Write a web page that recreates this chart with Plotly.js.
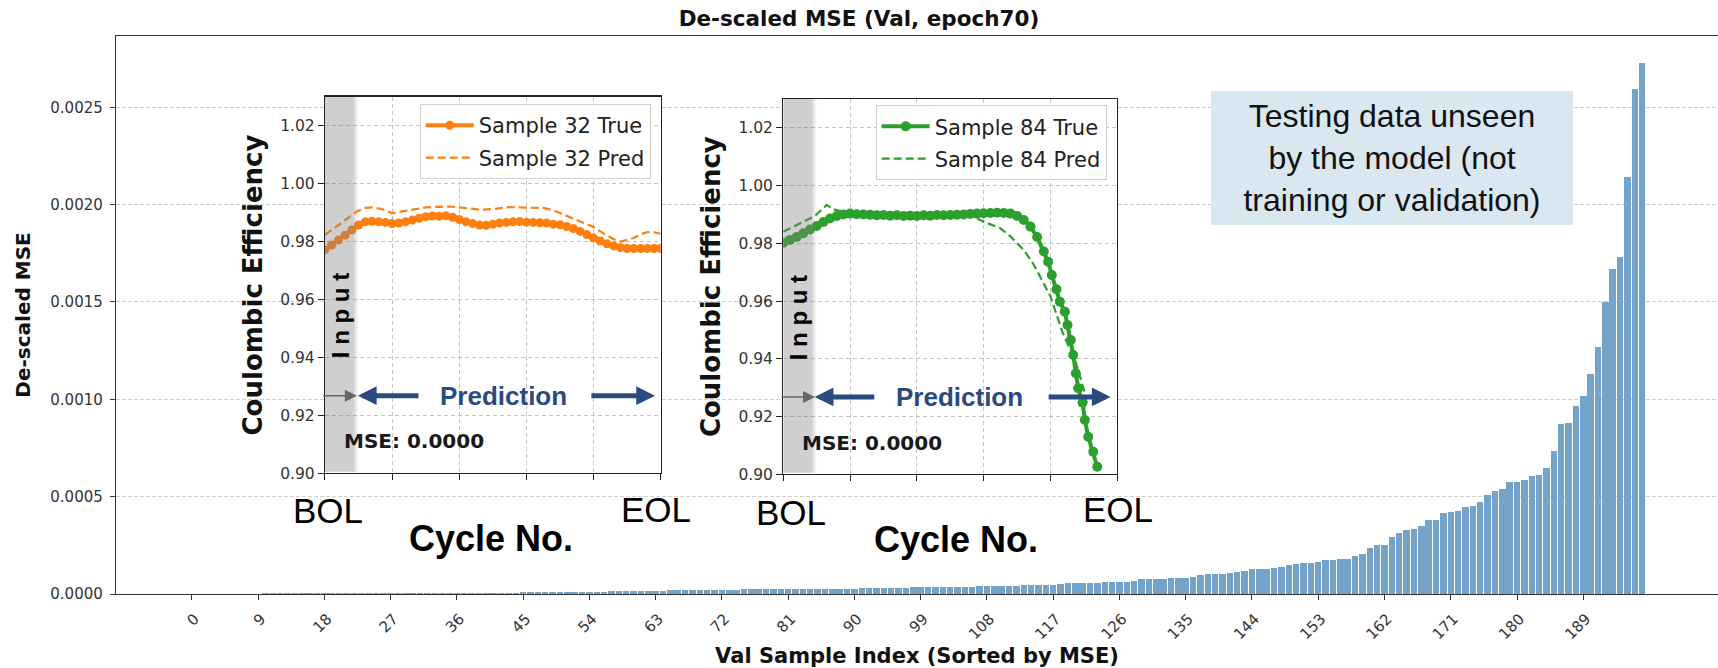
<!DOCTYPE html>
<html>
<head>
<meta charset="utf-8">
<script src="https://cdn.plot.ly/plotly-3.0.1.min.js"></script>
<style>
html,body{margin:0;padding:0;background:#fff;}
#chart{width:1718px;height:668px;}
</style>
</head>
<body>
<div id="chart"></div>
<script>
// ---------- main chart data ----------
const mseValues = [
  0.0000001, 0.0000002, 0.0000002, 0.0000003, 0.0000004, 0.0000005, 0.0000005, 0.0000006, 0.0000007, 0.0000008,
  0.0000038, 0.0000039, 0.0000041, 0.0000042, 0.0000042, 0.0000044, 0.0000045, 0.0000046, 0.0000046, 0.0000047,
  0.0000048, 0.0000049, 0.0000050, 0.0000050, 0.0000051, 0.0000052, 0.0000053, 0.0000054, 0.0000054, 0.0000055,
  0.0000056, 0.0000057, 0.0000058, 0.0000058, 0.0000059, 0.0000060, 0.0000061, 0.0000062, 0.0000063, 0.0000063,
  0.0000064, 0.0000065, 0.0000066, 0.0000067, 0.0000068, 0.0000110, 0.0000112, 0.0000113, 0.0000115, 0.0000116,
  0.0000118, 0.0000119, 0.0000121, 0.0000123, 0.0000124, 0.0000126, 0.0000128, 0.0000130, 0.0000132, 0.0000135,
  0.0000138, 0.0000142, 0.0000146, 0.0000150, 0.0000165, 0.0000190, 0.0000198, 0.0000201, 0.0000203, 0.0000204,
  0.0000206, 0.0000208, 0.0000210, 0.0000213, 0.0000216, 0.0000248, 0.0000252, 0.0000254, 0.0000255, 0.0000256,
  0.0000257, 0.0000258, 0.0000259, 0.0000260, 0.0000261, 0.0000262, 0.0000263, 0.0000265, 0.0000266, 0.0000268,
  0.0000270, 0.0000285, 0.0000302, 0.0000305, 0.0000307, 0.0000309, 0.0000311, 0.0000320, 0.0000352, 0.0000355,
  0.0000357, 0.0000359, 0.0000360, 0.0000362, 0.0000364, 0.0000366, 0.0000375, 0.0000405, 0.0000408, 0.0000410,
  0.0000412, 0.0000415, 0.0000425, 0.0000470, 0.0000474, 0.0000477, 0.0000480, 0.0000483, 0.0000495, 0.0000540,
  0.0000545, 0.0000549, 0.0000553, 0.0000565, 0.0000625, 0.0000630, 0.0000635, 0.0000640, 0.0000660, 0.0000775,
  0.0000782, 0.0000788, 0.0000795, 0.0000830, 0.0000836, 0.0000842, 0.0000860, 0.0000995, 0.0001005, 0.0001012,
  0.0001020, 0.0001060, 0.0001140, 0.0001160, 0.0001260, 0.0001275, 0.0001290, 0.0001320, 0.0001370, 0.0001500,
  0.0001540, 0.000157, 0.000158, 0.000164, 0.000175, 0.000176, 0.000181, 0.000182, 0.000194, 0.000203,
  0.000234, 0.000252, 0.000253, 0.000294, 0.000312, 0.000329, 0.000334, 0.000347, 0.000380, 0.000381,
  0.000416, 0.000422, 0.000427, 0.000446, 0.000451, 0.000475, 0.000511, 0.000530, 0.000541, 0.000575,
  0.000576, 0.000586, 0.000605, 0.000612, 0.000647, 0.000736, 0.000873, 0.000879, 0.000968, 0.001019,
  0.001132, 0.001269, 0.001498, 0.001671, 0.001730, 0.002144, 0.002592, 0.002729
];
const sampleIndex = mseValues.map((_, i) => i);
const xTickVals = [0, 9, 18, 27, 36, 45, 54, 63, 72, 81, 90, 99, 108, 117, 126, 135, 144, 153, 162, 171, 180, 189];
const yTickVals = [0, 0.0005, 0.0010, 0.0015, 0.0020, 0.0025];

// ---------- inset data (cycle position 0..100, BOL -> EOL) ----------
const s32X = [0,2,4,6,8,10,12,14,16,18,20,22,24,26,28,30,32,34,36,38,40,42,44,46,48,50,
              52,54,56,58,60,62,64,66,68,70,72,74,76,78,80,82,84,86,88,90,92,94,96,98,100];
const s32True = [0.9772,0.9788,0.9805,0.9822,0.9840,0.9857,0.9868,0.9870,0.9868,0.9866,0.9862,0.9864,0.9868,
                 0.9874,0.9880,0.9886,0.9888,0.9887,0.9889,0.9884,0.9876,0.9868,0.9862,0.9857,0.9856,0.9860,
                 0.9864,0.9866,0.9868,0.9869,0.9867,0.9866,0.9865,0.9864,0.9860,0.9858,0.9852,0.9845,0.9835,
                 0.9824,0.9812,0.9802,0.9792,0.9785,0.9779,0.9776,0.9776,0.9776,0.9776,0.9776,0.9776];
const s32PredX = [0,3,6,9.5,12,14,17,20,23,26,30,34,37,40,43,46,50,55,60,65,68,70,73,76,80,83,86,88,90,92,94,96,98,100];
const s32Pred = [0.9823,0.9848,0.9875,0.9904,0.9916,0.9918,0.9912,0.9898,0.9904,0.9910,0.9918,0.9920,0.9921,
                 0.9918,0.9913,0.9910,0.9912,0.9919,0.9917,0.9916,0.9908,0.9898,0.9884,0.9870,0.9850,0.9828,
                 0.9808,0.9800,0.9805,0.9812,0.9825,0.9833,0.9832,0.9827];

const s84X = [0,2,4,6,8,10,12,14,16,18,20,22,24,26,28,30,32,34,36,38,40,42,44,46,48,50,52,54,56,58,60,62,64,66,68,70,
              72,74,76,78,79.3,80.4,81.8,82.8,84.3,85.1,86.1,86.8,87.6,88.3,89.6,90.3,91.3,92.8,94.0];
const s84True = [0.9802,0.9812,0.9822,0.9835,0.9848,0.9860,0.9874,0.9886,0.9895,0.9900,0.9903,0.9901,0.9900,
                 0.9899,0.9897,0.9898,0.9896,0.9897,0.9895,0.9896,0.9895,0.9897,0.9896,0.9898,0.9897,0.9898,
                 0.9899,0.9900,0.9902,0.9903,0.9904,0.9905,0.9906,0.9905,0.9903,0.9895,
                 0.9881,0.9858,0.9822,0.9772,0.9736,0.9690,0.9641,0.9598,0.9563,0.9517,0.9465,0.9413,0.9350,
                 0.9298,0.9248,0.9188,0.9130,0.9078,0.9026];
const s84PredX = [0,5,9.5,13,15,17,20,30,40,50,57,60,65,68,72,75,78,80,82,83.5,85,87,88.5,90,91];
const s84Pred = [0.9840,0.9869,0.9895,0.9933,0.9918,0.9912,0.9910,0.9898,0.9896,0.9898,0.9892,0.9875,0.9852,
                 0.9824,0.9777,0.9726,0.9662,0.9616,0.9547,0.9495,0.9455,0.9409,0.9351,0.9293,0.9236];

const insetXTicks = [0, 20, 40, 60, 80, 100];
const insetYTicks = [0.90, 0.92, 0.94, 0.96, 0.98, 1.00, 1.02];
const inputEnd = 9.5;
const mseText = 'MSE: 0.0000';

// ---------- styles ----------
const DJ = 'DejaVu Sans, sans-serif';
const AR = 'Liberation Sans, Arial, sans-serif';
const NAVY = '#2a4b80';
const ORANGE = '#ff7f0e';
const GREEN = '#2ca02c';

const traces = [
  {type:'bar', x: sampleIndex, y: mseValues, width: 0.88,
   marker:{color:'#74a3c9', line:{width:0}}, showlegend:false, hoverinfo:'skip', xaxis:'x', yaxis:'y'},
  {type:'scatter', mode:'lines+markers', x: s32X, y: s32True, name:'Sample 32 True', legendgroup:'a',
   line:{color:ORANGE, width:4}, marker:{color:ORANGE, size:9}, xaxis:'x2', yaxis:'y2', legend:'legend2'},
  {type:'scatter', mode:'lines', x: s32PredX, y: s32Pred, name:'Sample 32 Pred', legendgroup:'b',
   line:{color:ORANGE, width:2.2, dash:'8px,4px'}, xaxis:'x2', yaxis:'y2', legend:'legend2'},
  {type:'scatter', mode:'lines+markers', x: s84X, y: s84True, name:'Sample 84 True', legendgroup:'c',
   line:{color:GREEN, width:4}, marker:{color:GREEN, size:10}, xaxis:'x3', yaxis:'y3', legend:'legend3'},
  {type:'scatter', mode:'lines', x: s84PredX, y: s84Pred, name:'Sample 84 Pred', legendgroup:'d',
   line:{color:GREEN, width:2.2, dash:'8px,4px'}, xaxis:'x3', yaxis:'y3', legend:'legend3'}
];

function insetX(domain){
  return {domain: domain, range:[0,100], tickvals: insetXTicks, showticklabels:false,
    ticks:'outside', ticklen:6, tickcolor:'#222', showline:true, mirror:true, linecolor:'#222', linewidth:1.2,
    showgrid:true, gridcolor:'#c4c4c4', griddash:'4px,3px', gridwidth:1, zeroline:false, fixedrange:true};
}
function insetY(domain, anchor){
  return {domain: domain, anchor: anchor, range:[0.90,1.03], tickvals: insetYTicks, tickformat:'.2f',
    ticks:'outside', ticklen:6, tickcolor:'#222', showline:true, mirror:true, linecolor:'#222', linewidth:1.2,
    showgrid:true, gridcolor:'#c4c4c4', griddash:'4px,3px', gridwidth:1, zeroline:false,
    tickfont:{family:DJ, size:15.5, color:'#333'},
    title:{text:'<b>Coulombic Efficiency</b>', font:{family:DJ, size:26, color:'#111'}, standoff:10}, fixedrange:true};
}

const x2dom = [0.13046, 0.34001], y2dom = [0.21631, 0.89122];
const x3dom = [0.41654, 0.62503], y3dom = [0.21452, 0.88710];

function insetAnnotations(xa, ya, c){
  const xd = xa + ' domain', yd = ya + ' domain';
  return [
    {xref:xa, yref:ya, x:c.inputX, y:0.9544, text:'<b>I n p u t</b>', textangle:-90, showarrow:false,
     font:{family:AR, size:24, color:'#000'}},
    {xref:xa, yref:ya, x:c.predX, y:0.9268, text:'<b>Prediction</b>', showarrow:false,
     font:{family:AR, size:26, color:NAVY}},
    {xref:xa, yref:ya, x:c.lh, y:0.9268, axref:xa, ayref:ya, ax:c.lt, ay:0.9268, text:'', showarrow:true,
     arrowhead:2, arrowsize:0.75, arrowwidth:5, arrowcolor:NAVY},
    {xref:xa, yref:ya, x:c.rh, y:0.9268, axref:xa, ayref:ya, ax:c.rt, ay:0.9268, text:'', showarrow:true,
     arrowhead:2, arrowsize:0.75, arrowwidth:5, arrowcolor:NAVY},
    {xref:xa, yref:ya, x:inputEnd, y:0.9268, axref:xa, ayref:ya, ax:-1, ay:0.9268, text:'', showarrow:true,
     arrowhead:2, arrowsize:1.6, arrowwidth:1.5, arrowcolor:'#666'},
    {xref:xa, yref:ya, x:5.0, y:0.9110, text:'<b>' + mseText + '</b>', showarrow:false, xanchor:'left',
     font:{family:DJ, size:20, color:'#1a1a1a'}},
    {xref:xd, yref:yd, x:c.bolX, y:c.bolY, xanchor:'center', yanchor:'middle', text:'BOL', showarrow:false,
     font:{family:AR, size:35, color:'#000'}},
    {xref:xd, yref:yd, x:c.eolX, y:c.eolY, xanchor:'center', yanchor:'middle', text:'EOL', showarrow:false,
     font:{family:AR, size:35, color:'#000'}},
    {xref:xd, yref:yd, x:c.cycX, y:c.cycY, xanchor:'center', yanchor:'middle', text:'<b>Cycle No.</b>', showarrow:false,
     font:{family:AR, size:36, color:'#000'}}
  ];
}

const annotations = [].concat(
  insetAnnotations('x2','y2',{inputX:4.6, predX:53.3, lh:9.8, lt:28.3, rh:98.3, rt:78.9,
    bolX:0.009, bolY:-0.100, eolX:0.986, eolY:-0.095, cycX:0.4945, cycY:-0.172}),
  insetAnnotations('x3','y3',{inputX:4.4, predX:52.9, lh:9.4, lt:27.7, rh:98.0, rt:79.0,
    bolX:0.023, bolY:-0.103, eolX:1.002, eolY:-0.095, cycX:0.517, cycY:-0.175}),
  [{xref:'paper', yref:'paper', x:0.7963, y:0.7816, xanchor:'center', yanchor:'middle',
    text:'Testing data unseen<br>by the model (not<br>training or validation)', showarrow:false,
    font:{family:AR, size:32, color:'#111'}, bgcolor:'#d9e7f1', width:362, height:134, borderpad:0, borderwidth:0}]
);

function band(xa, ya){
  const out = [{type:'rect', xref:xa, yref:ya, x0:0, x1:8.6, y0:0.9005, y1:1.03, layer:'above',
     fillcolor:'rgba(128,128,128,0.38)', line:{width:0}}];
  const fade = [[8.6,9.0,0.28],[9.0,9.4,0.18],[9.4,9.9,0.08]];
  fade.forEach(f => out.push({type:'rect', xref:xa, yref:ya, x0:f[0], x1:f[1], y0:0.9005, y1:1.03, layer:'above',
     fillcolor:'rgba(128,128,128,' + f[2] + ')', line:{width:0}}));
  return out;
}

const shapes = [
  {type:'rect', xref:'x2 domain', yref:'y2 domain', x0:-0.289, x1:1.0575, y0:-0.2302, y1:1.0231,
   layer:'below', fillcolor:'#ffffff', line:{width:0}},
  {type:'rect', xref:'x3 domain', yref:'y3 domain', x0:-0.2434, x1:1.068, y0:-0.2284, y1:1.0293,
   layer:'below', fillcolor:'#ffffff', line:{width:0}}
].concat(band('x2','y2'), band('x3','y3'));

const legendStyle = (x, y) => ({x:x, xanchor:'right', y:y, yanchor:'top', bgcolor:'rgba(255,255,255,0.9)',
  bordercolor:'#d0d0d0', borderwidth:1, font:{family:DJ, size:21, color:'#222'}, itemwidth:48, tracegroupgap:2});

const layout = {
  width:1718, height:668,
  margin:{l:116, r:0, t:36, b:74},
  paper_bgcolor:'#ffffff', plot_bgcolor:'#ffffff',
  title:{text:'<b>De-scaled MSE (Val, epoch70)</b>', x:0.5, xanchor:'center', y:0.972, yanchor:'middle',
         font:{family:DJ, size:21.5, color:'#111'}},
  bargap:0,
  xaxis:{range:[-10.3, 207.3], tickvals:xTickVals, ticktext:xTickVals.map(String), tickangle:-45,
    ticks:'outside', ticklen:5, tickcolor:'#333', showline:true, mirror:true, linecolor:'#333', linewidth:1.2,
    showgrid:false, zeroline:false, ticklabelshift:3, ticklabelstandoff:4,
    tickfont:{family:DJ, size:15, color:'#333'},
    title:{text:'<b>Val Sample Index (Sorted by MSE)</b>', font:{family:DJ, size:21, color:'#111'}, standoff:6},
    fixedrange:true},
  yaxis:{range:[0, 0.002866], tickvals:yTickVals, tickformat:'.4f',
    ticks:'outside', ticklen:5, tickcolor:'#333', showline:true, mirror:false, linecolor:'#333', linewidth:1.2,
    showgrid:true, gridcolor:'#cfcfcf', griddash:'4px,2px', gridwidth:1, zeroline:false, ticklabelstandoff:4,
    tickfont:{family:DJ, size:15, color:'#333'},
    title:{text:'<b>De-scaled MSE</b>', font:{family:DJ, size:20, color:'#111'}, standoff:14},
    fixedrange:true},
  xaxis2: Object.assign(insetX(x2dom), {anchor:'y2'}),
  yaxis2: insetY(y2dom, 'x2'),
  xaxis3: Object.assign(insetX(x3dom), {anchor:'y3'}),
  yaxis3: insetY(y3dom, 'x3'),
  showlegend:true,
  legend:{visible:false},
  legend2: legendStyle(0.3338, 0.8780),
  legend3: legendStyle(0.6184, 0.8760),
  shapes: shapes,
  annotations: annotations
};

Plotly.newPlot('chart', traces, layout, {displayModeBar:false, staticPlot:true});
</script>
</body>
</html>
